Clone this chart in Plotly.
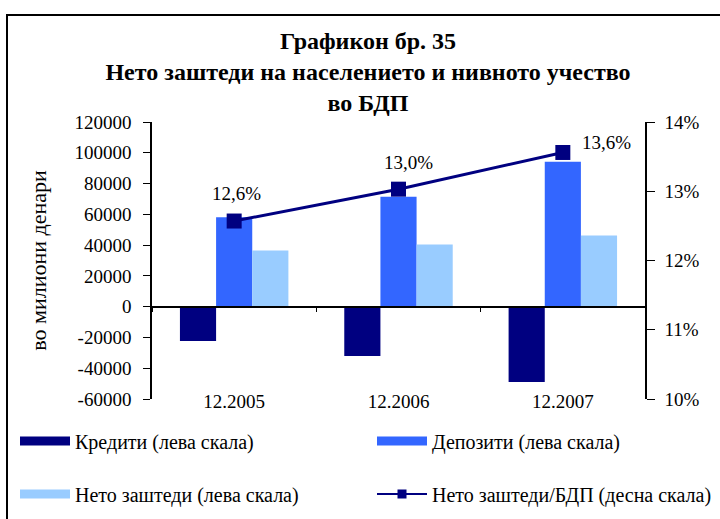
import plotly.graph_objects as go

categories = ["12.2005", "12.2006", "12.2007"]
credits = [-22300, -32000, -48900]
deposits = [58100, 71500, 94200]
net_savings = [36500, 40400, 46200]
net_to_gdp = [12.57, 13.03, 13.56]

left_tickvals = [-60000, -40000, -20000, 0, 20000, 40000, 60000, 80000, 100000, 120000]
left_ticktext = ["-60000", "-40000", "-20000", "0", "20000", "40000", "60000", "80000", "100000", "120000"]
right_tickvals = [10, 11, 12, 13, 14]
right_ticktext = ["10%", "11%", "12%", "13%", "14%"]

names = ["Кредити (лева скала)", "Депозити (лева скала)",
         "Нето заштеди (лева скала)", "Нето заштеди/БДП (десна скала)"]
colors = ["#000080", "#3366FF", "#99CCFF", "#000080"]

W, H = 720, 519
ML, MR, MT, MB = 152, 75, 122, 120
pw, ph = W - ML - MR, H - MT - MB

FONT = "Liberation Serif"


def px_x(px):
    return (px - ML) / pw


def px_y(py):
    return 1 - (py - MT) / ph


fig = go.Figure()
for vals, name, col in zip([credits, deposits, net_savings], names[:3], colors[:3]):
    fig.add_trace(go.Bar(x=categories, y=vals, name=name, showlegend=False,
                         marker=dict(color=col, line=dict(width=0))))
fig.add_trace(go.Scatter(x=categories, y=net_to_gdp, name=names[3], showlegend=False,
                         yaxis="y2", mode="lines+markers",
                         line=dict(color=colors[3], width=3),
                         marker=dict(symbol="square", size=15, color=colors[3])))

# legend entries (legend-only keys shaped like the original wide swatches)
for k, (name, col) in enumerate(zip(names, colors)):
    if k < 3:
        fig.add_trace(go.Scatter(x=[None], y=[None], name=name, mode="lines",
                                 line=dict(color=col, width=9),
                                 legend="legend" if k == 0 else f"legend{k + 1}"))
    else:
        fig.add_trace(go.Scatter(x=[None], y=[None], name=name, mode="lines+markers",
                                 line=dict(color=col, width=2),
                                 marker=dict(symbol="square", size=9, color=col),
                                 legend=f"legend{k + 1}"))

label_shift = [(2, 28), (10, 27), (44, 10)]
for i, (v, (dx, dy)) in enumerate(zip(net_to_gdp, label_shift)):
    fig.add_annotation(x=i, y=v, xref="x", yref="y2", text=f"{v:.1f}".replace(".", ",") + "%",
                       showarrow=False, xshift=dx, yshift=dy,
                       font=dict(family=FONT, size=19, color="black"))

# chart frame
fig.add_shape(type="rect", xref="paper", yref="paper",
              x0=px_x(7), x1=px_x(W + 5), y0=px_y(H + 5), y1=px_y(15),
              line=dict(color="black", width=2), fillcolor="rgba(0,0,0,0)", layer="below")

leg_common = dict(orientation="h", xanchor="left", yanchor="middle", itemwidth=50,
                  font=dict(family=FONT, size=20), bgcolor="rgba(0,0,0,0)")

fig.update_layout(
    width=W, height=H, showlegend=True,
    margin=dict(l=ML, r=MR, t=MT, b=MB, autoexpand=False),
    paper_bgcolor="white", plot_bgcolor="white",
    barmode="group", bargap=0.34, bargroupgap=0,
    font=dict(family=FONT, size=19, color="black"),
    title=dict(text="Графикон бр. 35<br>Нето заштеди на населението и нивното учество<br>во БДП",
               font=dict(family=FONT, size=24, color="black", weight="bold"),
               x=368 / W, xanchor="center", xref="container",
               y=1 - 49 / H, yanchor="top", yref="container"),
    xaxis=dict(type="category", anchor="free", position=1 / 3,
               showline=True, linecolor="black", linewidth=1.5,
               ticks="outside", tickson="boundaries", ticklen=5, tickcolor="black",
               ticklabelstandoff=78, showgrid=False, zeroline=False, automargin=False,
               tickfont=dict(family=FONT, size=19)),
    yaxis=dict(range=[-60000, 120000], tickvals=left_tickvals, ticktext=left_ticktext,
               showline=True, linecolor="black", linewidth=1.5,
               ticks="outside", ticklen=7, tickcolor="black", ticklabelstandoff=8,
               showgrid=False, zeroline=False, automargin=False,
               title=dict(text="во милиони денари", standoff=22, font=dict(family=FONT, size=22))),
    yaxis2=dict(range=[10, 14], tickvals=right_tickvals, ticktext=right_ticktext,
                overlaying="y", side="right",
                showline=True, linecolor="black", linewidth=1.5,
                ticks="outside", ticklen=8, tickcolor="black", ticklabelstandoff=6,
                showgrid=False, zeroline=False, automargin=False),
    legend=dict(x=px_x(15), y=px_y(441), **leg_common),
    legend2=dict(x=px_x(372), y=px_y(441), **leg_common),
    legend3=dict(x=px_x(15), y=px_y(494), **leg_common),
    legend4=dict(x=px_x(372), y=px_y(494), **leg_common),
)

fig.write_html("out.html", config={"displayModeBar": False},
               post_script="document.body.style.margin='0px';")
